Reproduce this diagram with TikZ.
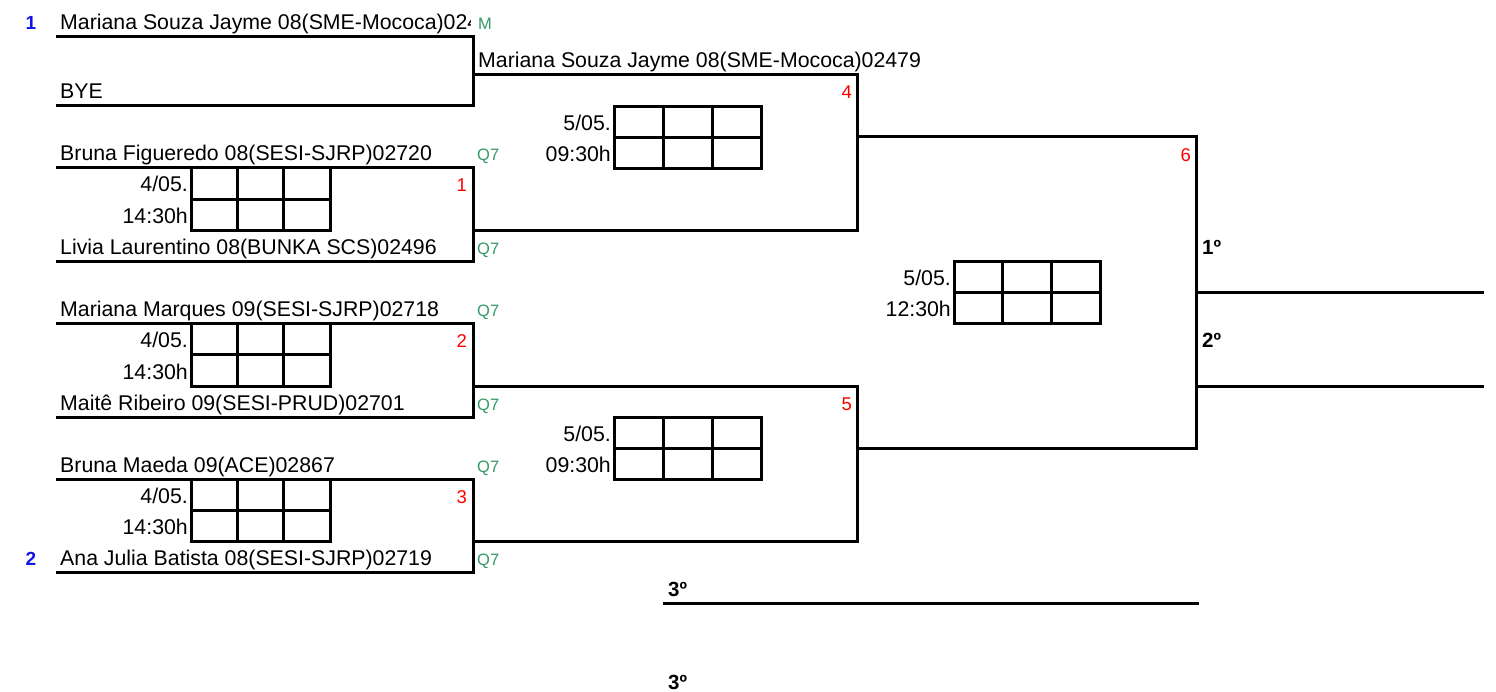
\documentclass[tikz,border=0pt]{standalone}
\usepackage{fontspec}
\setmainfont{Liberation Sans}
\definecolor{qgreen}{RGB}{51,153,102}
\definecolor{seedblue}{RGB}{20,20,230}
\newcommand{\scorebox}[4]{% x, ytop, width, height
  \draw[boxline] (#1,#2) rectangle ++(#3,#4);
  \draw[boxline] (#1,#2+#4/2) -- ++(#3,0);
  \draw[boxline] (#1+#3/3,#2) -- ++(0,#4);
  \draw[boxline] (#1+2*#3/3,#2) -- ++(0,#4);
}
\begin{document}
\begin{tikzpicture}[x=1pt,y=-1pt,
  txtbase/.style={inner sep=0pt, font=\fontsize{21.3}{24}\selectfont},
  pname/.style={txtbase, anchor=base west},
  pdate/.style={txtbase, anchor=base east},
  qual/.style={inner sep=0pt, anchor=base west, text=qgreen, font=\fontsize{16.5}{19}\selectfont},
  mnum/.style={inner sep=0pt, anchor=base east, text=red, font=\fontsize{18.5}{21}\selectfont},
  seed/.style={inner sep=0pt, anchor=base, text=seedblue, font=\fontsize{19}{22}\selectfont\bfseries},
  place/.style={inner sep=0pt, anchor=base west, font=\fontsize{20.5}{24}\selectfont\bfseries},
  bline/.style={line width=3pt, line join=miter, line cap=rect},
  boxline/.style={line width=3pt, line join=miter}]
\useasboundingbox (0,0) rectangle (1496,692);

% ---- coordinates of bracket slots
\coordinate (a1) at (57,37);   \coordinate (a2) at (57,106);
\coordinate (aR1) at (473,37); \coordinate (aR2) at (473,106); \coordinate (aO) at (473,75);
\coordinate (b1) at (57,168);  \coordinate (b2) at (57,262);
\coordinate (bR1) at (473,168); \coordinate (bR2) at (473,262); \coordinate (bO) at (473,231);
\coordinate (c1) at (57,324);  \coordinate (c2) at (57,417);
\coordinate (cR1) at (473,324); \coordinate (cR2) at (473,417); \coordinate (cO) at (473,386);
\coordinate (d1) at (57,479);  \coordinate (d2) at (57,572);
\coordinate (dR1) at (473,479); \coordinate (dR2) at (473,572); \coordinate (dO) at (473,541);
\coordinate (m4a) at (857,75); \coordinate (m4b) at (857,231); \coordinate (m4O) at (857,137);
\coordinate (m5a) at (857,386); \coordinate (m5b) at (857,541); \coordinate (m5O) at (857,448);
\coordinate (f1) at (1196,137); \coordinate (f2) at (1196,448);
\coordinate (fO1) at (1196,293); \coordinate (fO2) at (1196,386);
\coordinate (e1) at (1482,293); \coordinate (e2) at (1482,386);
\coordinate (t1) at (664,603); \coordinate (t2) at (1197,603);

% ---- bracket lines
\draw[bline] (a1) -- (aR1) -- (aR2) -- (a2);
\draw[bline] (b1) -- (bR1) -- (bR2) -- (b2);
\draw[bline] (c1) -- (cR1) -- (cR2) -- (c2);
\draw[bline] (d1) -- (dR1) -- (dR2) -- (d2);
\draw[bline] (aO) -- (m4a) -- (m4b) -- (bO);
\draw[bline] (cO) -- (m5a) -- (m5b) -- (dO);
\draw[bline] (m4O) -- (f1) -- (f2) -- (m5O);
\draw[bline] (fO1) -- (e1);
\draw[bline] (fO2) -- (e2);
\draw[bline] (t1) -- (t2);

% ---- score boxes
\scorebox{191}{168}{139}{63}
\scorebox{191}{324}{139}{62}
\scorebox{191}{479}{139}{62}
\scorebox{614}{107}{147}{62}
\scorebox{614}{417}{147}{62}
\scorebox{954}{262}{146}{62}

% ---- seeds
\node[seed] (sd1) at (31,30) {1};
\node[seed] (sd2) at (31,565) {2};

% ---- names
\begin{scope}
  \clip (55,0) rectangle (470.5,36);
  \node[pname] (n1) at (60,30) {Mariana Souza Jayme 08(SME-Mococa)02\makebox[2pt][l]{4}};
\end{scope}
\node[pname] (w1) at (478,68) {Mariana Souza Jayme 08(SME-Mococa)02479};
\node[pname] (n2) at (60,99) {BYE};
\node[pname] (n3) at (60,161) {Bruna Figueredo 08(SESI-SJRP)02720};
\node[pname] (n4) at (60,255) {Livia Laurentino 08(BUNKA SCS)02496};
\node[pname] (n5) at (60,317) {Mariana Marques 09(SESI-SJRP)02718};
\node[pname] (n6) at (60,410) {Maitê Ribeiro 09(SESI-PRUD)02701};
\node[pname] (n7) at (60,472) {Bruna Maeda 09(ACE)02867};
\node[pname] (n8) at (60,565) {Ana Julia Batista 08(SESI-SJRP)02719};

% ---- qualifiers
\node[qual] (q0) at (478,30) {M};
\node[qual] (q1) at (477,161) {Q7};
\node[qual] (q2) at (477,255) {Q7};
\node[qual] (q3) at (477,317) {Q7};
\node[qual] (q4) at (477,410) {Q7};
\node[qual] (q5) at (477,472) {Q7};
\node[qual] (q6) at (477,565) {Q7};

% ---- dates
\node[pdate] (d1a) at (188,192) {4/05.};
\node[pdate] (d1b) at (188,224) {14:30h};
\node[pdate] (d2a) at (188,348) {4/05.};
\node[pdate] (d2b) at (188,379) {14:30h};
\node[pdate] (d3a) at (188,503) {4/05.};
\node[pdate] (d3b) at (188,534) {14:30h};
\node[pdate] (d4a) at (611,131) {5/05.};
\node[pdate] (d4b) at (611,162) {09:30h};
\node[pdate] (d5a) at (611,441) {5/05.};
\node[pdate] (d5b) at (611,472) {09:30h};
\node[pdate] (d6a) at (951,286) {5/05.};
\node[pdate] (d6b) at (951,317) {12:30h};

% ---- match numbers
\node[mnum] (mn1) at (467,192) {1};
\node[mnum] (mn2) at (467,348) {2};
\node[mnum] (mn3) at (467,503) {3};
\node[mnum] (mn4) at (852,99) {4};
\node[mnum] (mn5) at (852,410) {5};
\node[mnum] (mn6) at (1191,162) {6};

% ---- places
\node[place] (p1) at (1202,255) {1º};
\node[place] (p2) at (1202,348) {2º};
\node[place] (p3) at (668,596) {3º};
\node[place] (p4) at (668,689) {3º};
\end{tikzpicture}
\end{document}
